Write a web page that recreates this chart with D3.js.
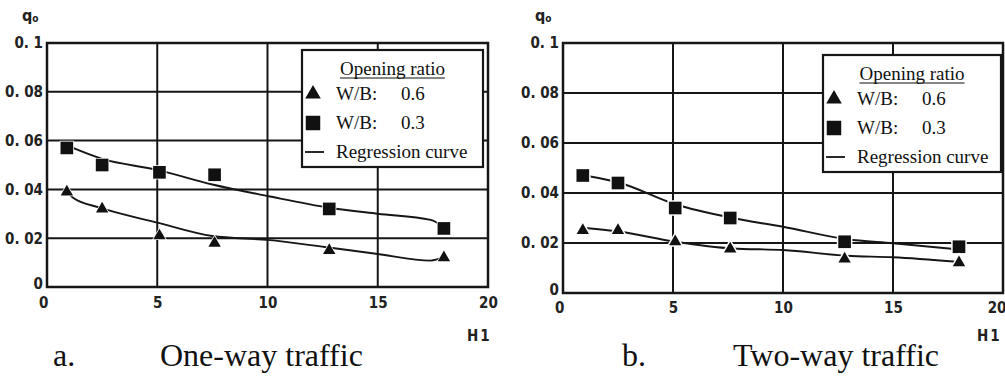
<!DOCTYPE html>
<html>
<head>
<meta charset="utf-8">
<script src="https://cdn.jsdelivr.net/npm/d3@7/dist/d3.min.js"></script>
<style>
  html, body { margin: 0; padding: 0; background: #fff; }
  svg { display: block; }
</style>
</head>
<body>
<svg id="chart" width="1005" height="376"></svg>
<script>
// ---------------- DATA ----------------
const xTicks = [0, 5, 10, 15, 20];
const xTickLabels = ["0", "5", "10", "15", "20"];
const yTicks = [0.1, 0.08, 0.06, 0.04, 0.02, 0];
const yTickLabels = ["0. 1", "0. 08", "0. 06", "0. 04", "0. 02", "0"];
const gridX = [5, 10, 15];
const gridY = [0.02, 0.04, 0.06, 0.08];

const hValues = [0.9, 2.5, 5.1, 7.6, 12.8, 18.0];

// a. One-way traffic
const oneWaySquare = [0.057, 0.050, 0.047, 0.046, 0.032, 0.024];
const oneWayTriangle = [0.039, 0.032, 0.021, 0.018, 0.015, 0.012];
const oneWaySqCurveX = [0.9, 2.5, 5, 7.5, 10, 12.8, 15, 17.4, 18];
const oneWaySqCurveY = [0.058, 0.0525, 0.048, 0.042, 0.0373, 0.0325, 0.030, 0.0275, 0.0245];
const oneWayTriCurveX = [0.9, 1.2, 2.4, 5, 7.5, 10, 12.6, 15, 17.4, 18];
const oneWayTriCurveY = [0.039, 0.0365, 0.0325, 0.0264, 0.0209, 0.0193, 0.0164, 0.0135, 0.0108, 0.0123];

// b. Two-way traffic
const twoWaySquare = [0.047, 0.044, 0.034, 0.030, 0.0205, 0.0185];
const twoWayTriangle = [0.025, 0.025, 0.0205, 0.0176, 0.0136, 0.0121];
const twoWaySqCurveX = [1.0, 2.6, 5.1, 7.7, 10, 12.9, 15, 17.9];
const twoWaySqCurveY = [0.047, 0.044, 0.0355, 0.030, 0.0265, 0.0215, 0.0199, 0.0175];
const twoWayTriCurveX = [1.0, 2.6, 5.1, 7.7, 10, 12.9, 15, 17.9];
const twoWayTriCurveY = [0.026, 0.0245, 0.0205, 0.0178, 0.0172, 0.0149, 0.0143, 0.0125];

const legendTitle = "Opening ratio";
const legendRows = [
  { sym: "triangle", label: "W/B:", value: "0.6" },
  { sym: "square", label: "W/B:", value: "0.3" },
  { sym: "line", label: "Regression curve", value: "" }
];
const yAxisLabel = ["q", "o"];
const xAxisLabel = "H1";
const captions = [["a.", "One-way traffic"], ["b.", "Two-way traffic"]];

// ---------------- LAYOUT ----------------
const svg = d3.select("#chart");
const tickFont = "'DejaVu Sans Condensed', 'DejaVu Sans', sans-serif";
const serifFont = "'Liberation Serif', 'Times New Roman', serif";
const ink = "#161616";

const panels = [
  {
    xr: [47, 488], yr: [287, 43],
    sq: oneWaySquare, tri: oneWayTriangle,
    sqCurve: [oneWaySqCurveX, oneWaySqCurveY],
    triCurve: [oneWayTriCurveX, oneWayTriCurveY],
    legend: { x: 302, y: 50, w: 181, h: 117 },
    qPos: [22, 21], hPos: [467, 341], xPad: 10,
    cap: captions[0], capPos: [53, 160], halo: 1.5
  },
  {
    xr: [563, 1003], yr: [293, 43],
    sq: twoWaySquare, tri: twoWayTriangle,
    sqCurve: [twoWaySqCurveX, twoWaySqCurveY],
    triCurve: [twoWayTriCurveX, twoWayTriCurveY],
    legend: { x: 823, y: 55, w: 178, h: 117 },
    qPos: [535, 21], hPos: [977, 341], xPad: 9,
    cap: captions[1], capPos: [622, 733], halo: 3
  }
];

panels.forEach((p, pi) => {
  const x = d3.scaleLinear().domain([0, 20]).range(p.xr);
  const y = d3.scaleLinear().domain([0, 0.1]).range(p.yr);
  const g = svg.append("g");

  // gridlines
  g.selectAll(".gy").data(gridY).join("line")
    .attr("x1", p.xr[0]).attr("x2", p.xr[1])
    .attr("y1", d => y(d)).attr("y2", d => y(d))
    .attr("stroke", ink).attr("stroke-width", 2);
  g.selectAll(".gx").data(gridX).join("line")
    .attr("x1", d => x(d)).attr("x2", d => x(d))
    .attr("y1", p.yr[0]).attr("y2", p.yr[1])
    .attr("stroke", ink).attr("stroke-width", 2);

  // frame
  g.append("rect")
    .attr("x", p.xr[0]).attr("y", p.yr[1])
    .attr("width", p.xr[1] - p.xr[0]).attr("height", p.yr[0] - p.yr[1])
    .attr("fill", "none").attr("stroke", ink).attr("stroke-width", 2.5);

  // axes (labels only)
  const ya = g.append("g").attr("transform", `translate(${p.xr[0]},0)`)
    .call(d3.axisLeft(y).tickValues(yTicks).tickSize(0).tickPadding(4)
      .tickFormat((d, i) => yTickLabels[i]));
  const xa = g.append("g").attr("transform", `translate(0,${p.yr[0]})`)
    .call(d3.axisBottom(x).tickValues(xTicks).tickSize(0).tickPadding(p.xPad)
      .tickFormat((d, i) => xTickLabels[i]));
  [ya, xa].forEach(a => {
    a.select(".domain").remove();
    a.selectAll("text").attr("font-family", tickFont).attr("font-size", 15)
      .attr("font-weight", "bold").attr("fill", "#222");
  });
  ya.selectAll(".tick").filter(d => d === 0).select("text").attr("dy", "0.1em");
  xa.selectAll(".tick").filter(d => d === 0).select("text").attr("dx", "-0.25em");
  if (pi === 1) {
    xa.selectAll(".tick").filter(d => d === 20).select("text")
      .attr("text-anchor", "end").attr("dx", "0.2em");
  }

  // regression curves
  const line = d3.line().x(d => x(d[0])).y(d => y(d[1])).curve(d3.curveMonotoneX);
  [p.sqCurve, p.triCurve].forEach(c => {
    const pts = c[0].map((v, i) => [v, c[1][i]]);
    g.append("path").attr("d", line(pts)).attr("fill", "none")
      .attr("stroke", ink).attr("stroke-width", 1.9);
  });

  // markers
  const sqSym = d3.symbol(d3.symbolSquare, 160);
  const triSym = d3.symbol(d3.symbolTriangle, 66);
  g.selectAll(".sq").data(hValues.map((h, i) => [h, p.sq[i]])).join("path")
    .attr("d", sqSym)
    .attr("transform", d => `translate(${x(d[0])},${y(d[1])})`)
    .attr("fill", "#111").attr("stroke", "#fff").attr("stroke-width", p.halo)
    .attr("paint-order", "stroke");
  g.selectAll(".tri").data(hValues.map((h, i) => [h, p.tri[i]])).join("path")
    .attr("d", triSym)
    .attr("transform", d => `translate(${x(d[0])},${y(d[1])})`)
    .attr("fill", "#111").attr("stroke", "#fff").attr("stroke-width", p.halo)
    .attr("paint-order", "stroke");

  // legend
  const L = p.legend;
  const lg = g.append("g").attr("transform", `translate(${L.x},${L.y})`);
  lg.append("rect").attr("width", L.w).attr("height", L.h)
    .attr("fill", "#fff").attr("stroke", ink).attr("stroke-width", 2.2);
  const tt = lg.append("text").attr("x", L.w / 2).attr("y", 25)
    .attr("text-anchor", "middle").attr("font-family", serifFont)
    .attr("font-size", 19).attr("fill", "#111").text(legendTitle);
  const tw = tt.node().getComputedTextLength();
  lg.append("line").attr("x1", L.w / 2 - tw / 2).attr("x2", L.w / 2 + tw / 2)
    .attr("y1", 28).attr("y2", 28).attr("stroke", "#111").attr("stroke-width", 1.2);
  const rowY = [50, 79, 108];
  legendRows.forEach((r, i) => {
    const cy = rowY[i] - 6;
    if (r.sym === "triangle") {
      lg.append("path").attr("d", d3.symbol(d3.symbolTriangle, 105)())
        .attr("transform", `translate(11,${cy})`).attr("fill", "#111");
    } else if (r.sym === "square") {
      lg.append("path").attr("d", d3.symbol(d3.symbolSquare, 210)())
        .attr("transform", `translate(11,${cy})`).attr("fill", "#111");
    } else {
      lg.append("line").attr("x1", 3).attr("x2", 22).attr("y1", cy).attr("y2", cy)
        .attr("stroke", "#111").attr("stroke-width", 1.8);
    }
    lg.append("text").attr("x", 34).attr("y", rowY[i])
      .attr("font-family", serifFont).attr("font-size", 19).attr("fill", "#111")
      .text(r.label);
    if (r.value) {
      lg.append("text").attr("x", 99).attr("y", rowY[i])
        .attr("font-family", serifFont).attr("font-size", 19).attr("fill", "#111")
        .text(r.value);
    }
  });

  // axis titles
  const q = g.append("text").attr("x", p.qPos[0]).attr("y", p.qPos[1])
    .attr("font-family", tickFont).attr("font-weight", "bold")
    .attr("font-size", 16).attr("fill", "#222");
  q.append("tspan").text(yAxisLabel[0]);
  q.append("tspan").attr("font-size", 10).attr("dy", 1).text(yAxisLabel[1]);
  g.append("text").attr("x", p.hPos[0]).attr("y", p.hPos[1])
    .attr("font-family", tickFont).attr("font-weight", "bold")
    .attr("font-size", 15).attr("letter-spacing", 2).attr("fill", "#222")
    .text(xAxisLabel);

  // captions
  g.append("text").attr("x", p.capPos[0]).attr("y", 366)
    .attr("font-family", serifFont).attr("font-size", 32).attr("fill", "#111")
    .text(p.cap[0]);
  g.append("text").attr("x", p.capPos[1]).attr("y", 366)
    .attr("font-family", serifFont).attr("font-size", 32).attr("fill", "#111")
    .text(p.cap[1]);
});
</script>
</body>
</html>
